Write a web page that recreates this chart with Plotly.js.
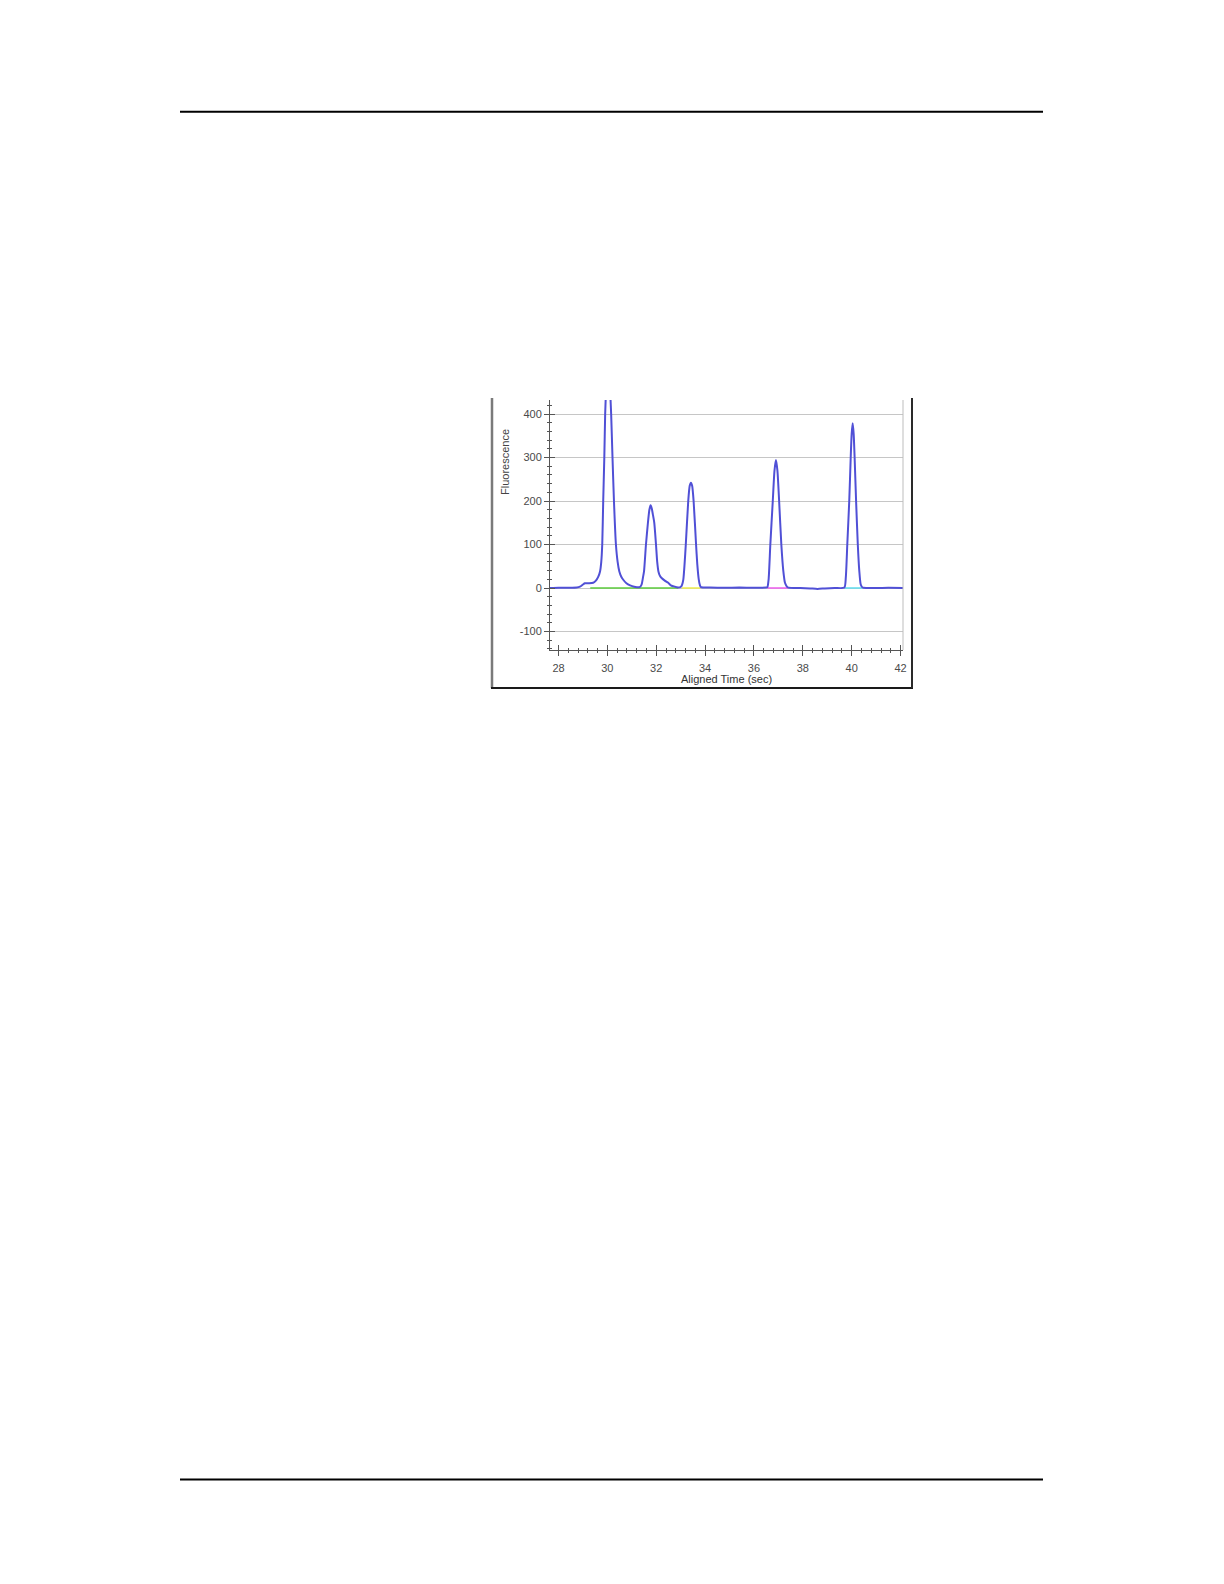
<!DOCTYPE html>
<html>
<head>
<meta charset="utf-8">
<script src="https://cdn.plot.ly/plotly-3.0.1.min.js"></script>
<style>
  html, body { margin: 0; padding: 0; background: #ffffff; }
  #chart { width: 1224px; height: 1584px; }
</style>
</head>
<body>
<div id="chart"></div>
<script>
// ---- Data ----
const alignedTime = [
  27.65, 28.00, 28.40, 28.75, 28.88, 29.00, 29.08, 29.25, 29.42, 29.53, 29.62,
  29.70, 29.75, 29.79, 29.83, 29.875, 29.91, 29.935, 29.97, 30.03, 30.09, 30.125,
  30.155, 30.21, 30.27, 30.35, 30.42, 30.49, 30.57, 30.65, 30.78, 30.93, 31.10,
  31.32, 31.40, 31.46, 31.50, 31.58, 31.66, 31.72, 31.77, 31.82, 31.86, 31.92,
  31.99, 32.04, 32.09, 32.15, 32.22, 32.35, 32.49, 32.60, 32.70, 32.90,
  33.01, 33.06, 33.11, 33.16, 33.21, 33.31, 33.37, 33.42, 33.47, 33.53, 33.63,
  33.68, 33.74, 33.79, 33.83, 34.20, 34.80, 35.40, 36.00, 36.50,
  36.55, 36.60, 36.67, 36.77, 36.84, 36.90, 36.96, 37.03, 37.12, 37.20, 37.27,
  37.34, 37.41, 37.90, 38.30, 38.60, 38.90, 39.30, 39.70,
  39.76, 39.82, 39.90, 39.96, 40.00, 40.04, 40.08, 40.12, 40.18, 40.25, 40.31,
  40.37, 40.43, 40.48, 41.00, 41.50, 42.10
];
const fluorescence = [
  0, 0.5, 0.5, 1, 3, 8, 11, 11, 12, 17, 25,
  38, 60, 100, 200, 300, 400, 440, 500, 540, 500, 440,
  400, 300, 200, 100, 60, 38, 26, 19, 11, 6, 3,
  2, 8, 25, 38, 100, 150, 180, 190, 182, 170, 150,
  100, 60, 38, 28, 23, 17, 12, 6, 4, 1,
  3, 8, 20, 55, 100, 200, 235, 242, 235, 200, 100,
  55, 20, 6, 2, 1, 0.5, 1, 0.5, 1,
  2, 20, 100, 200, 270, 294, 270, 200, 100, 40, 12,
  4, 1, 0, -1, -2, -1, 0, 1,
  25, 100, 200, 300, 355, 379, 355, 300, 200, 100, 40,
  8, 2, 0.5, 0, 0.5, 0
];

// coloured peak baselines (start, end)
const greenBaseX   = [29.30, 32.90];
const yellowBaseX  = [33.05, 33.80];
const magentaBaseX = [36.55, 37.40];
const cyanBaseX    = [39.70, 40.45];
const baseY        = [0, 0];

// axis ticks
const xTickVals = [28, 30, 32, 34, 36, 38, 40, 42];
const xTickText = ['28', '30', '32', '34', '36', '38', '40', '42'];
const yTickVals = [-100, 0, 100, 200, 300, 400];
const yTickText = ['-100', '0', '100', '200', '300', '400'];

const xTitle = 'Aligned Time (sec)';
const yTitle = 'Fluorescence';

// ---- Layout geometry ----
const FONT = 'Liberation Sans, Arial, sans-serif';
const xRange = [27.652, 42.10];
const yRange = [-142.5, 432.2];
const plotL = 550, plotR = 903, plotT = 400, plotB = 650;
const W = 1224, H = 1584;
const pw = plotR - plotL, ph = plotB - plotT;
const px = v => (v - plotL) / pw;       // page pixel -> paper x
const py = v => (plotB - v) / ph;       // page pixel -> paper y

const baseSeg = (xs, color) => ({
  x: xs, y: baseY, type: 'scatter', mode: 'lines',
  line: { color: color, width: 1.6 }, hoverinfo: 'skip', showlegend: false,
  xaxis: 'x', yaxis: 'y'
});

const traces = [
  baseSeg(greenBaseX, '#5ccc3c'),
  baseSeg(yellowBaseX, '#eeee55'),
  baseSeg(magentaBaseX, '#ee66ee'),
  baseSeg(cyanBaseX, '#66ddee'),
  {
    x: alignedTime, y: fluorescence, type: 'scatter', mode: 'lines',
    line: { color: '#5050d6', width: 2, shape: 'spline', smoothing: 0.6 },
    showlegend: false, xaxis: 'x2', yaxis: 'y2'
  }
];

const tickFont = { family: FONT, size: 11, color: '#4a4a4a' };

const layout = {
  width: W, height: H,
  paper_bgcolor: '#ffffff', plot_bgcolor: '#ffffff',
  margin: { l: plotL, r: W - plotR, t: plotT, b: H - plotB, pad: 0 },
  showlegend: false,
  xaxis: {
    range: xRange, tickmode: 'array', tickvals: xTickVals, ticktext: xTickText,
    ticks: 'outside', ticklen: 5, tickwidth: 1, tickcolor: '#555555',
    ticklabelstandoff: 3,
    showline: true, linecolor: '#555555', linewidth: 1,
    showgrid: false, zeroline: false, tickfont: tickFont,
    minor: { tick0: 28, dtick: 0.4, ticks: 'outside', ticklen: 2, tickcolor: '#555555', showgrid: false }
  },
  yaxis: {
    range: yRange, tickmode: 'array', tickvals: yTickVals, ticktext: yTickText,
    ticks: 'outside', ticklen: 5, tickwidth: 1, tickcolor: '#555555',
    showline: true, linecolor: '#555555', linewidth: 1,
    showgrid: true, gridcolor: '#c6c6c6', gridwidth: 1,
    zeroline: false, tickfont: tickFont,
    minor: { tick0: 0, dtick: 20, ticks: 'outside', ticklen: 2, tickcolor: '#555555', showgrid: false }
  },
  xaxis2: {
    range: xRange, overlaying: 'x', anchor: 'y2', side: 'bottom',
    tickmode: 'array', tickvals: xTickVals, showticklabels: false,
    ticks: 'inside', ticklen: 5, tickcolor: '#555555',
    showline: false, showgrid: false, zeroline: false,
    minor: { tick0: 28, dtick: 0.4, ticks: 'inside', ticklen: 2, tickcolor: '#555555', showgrid: false }
  },
  yaxis2: {
    range: yRange, overlaying: 'y', anchor: 'x2', side: 'left',
    tickmode: 'array', tickvals: yTickVals, showticklabels: false,
    ticks: 'inside', ticklen: 5, tickcolor: '#555555',
    showline: false, showgrid: false, zeroline: false,
    minor: { tick0: 0, dtick: 20, ticks: 'inside', ticklen: 2, tickcolor: '#555555', showgrid: false }
  },
  annotations: [
    {
      text: xTitle, xref: 'paper', yref: 'paper', x: 0.5, y: py(679),
      xanchor: 'center', yanchor: 'middle', showarrow: false,
      font: { family: FONT, size: 11, color: '#333333' }
    },
    {
      text: yTitle, xref: 'paper', yref: 'paper', x: px(505), y: py(462),
      xanchor: 'center', yanchor: 'middle', showarrow: false, textangle: -90,
      font: { family: FONT, size: 11, color: '#444444' }
    }
  ],
  shapes: [
    // page header / footer rules
    { type: 'line', xref: 'paper', yref: 'paper', x0: px(180), x1: px(1043), y0: py(111.7), y1: py(111.7),
      line: { color: '#000000', width: 2 } },
    { type: 'line', xref: 'paper', yref: 'paper', x0: px(180), x1: px(1043), y0: py(1479.5), y1: py(1479.5),
      line: { color: '#000000', width: 2 } },
    // screenshot frame
    { type: 'line', xref: 'paper', yref: 'paper', x0: px(492), x1: px(492), y0: py(398), y1: py(688),
      line: { color: '#7a7a7a', width: 2.5 } },
    { type: 'line', xref: 'paper', yref: 'paper', x0: px(491), x1: px(913), y0: py(688), y1: py(688),
      line: { color: '#1a1a1a', width: 2 } },
    { type: 'line', xref: 'paper', yref: 'paper', x0: px(912), x1: px(912), y0: py(398), y1: py(688),
      line: { color: '#2a2a2a', width: 2 } },
    // plot area right border
    { type: 'line', xref: 'paper', yref: 'paper', x0: 1, x1: 1, y0: 0, y1: 1,
      line: { color: '#bdbdbd', width: 1 } }
  ]
};

Plotly.newPlot('chart', traces, layout, { displayModeBar: false, staticPlot: true });
</script>
</body>
</html>
